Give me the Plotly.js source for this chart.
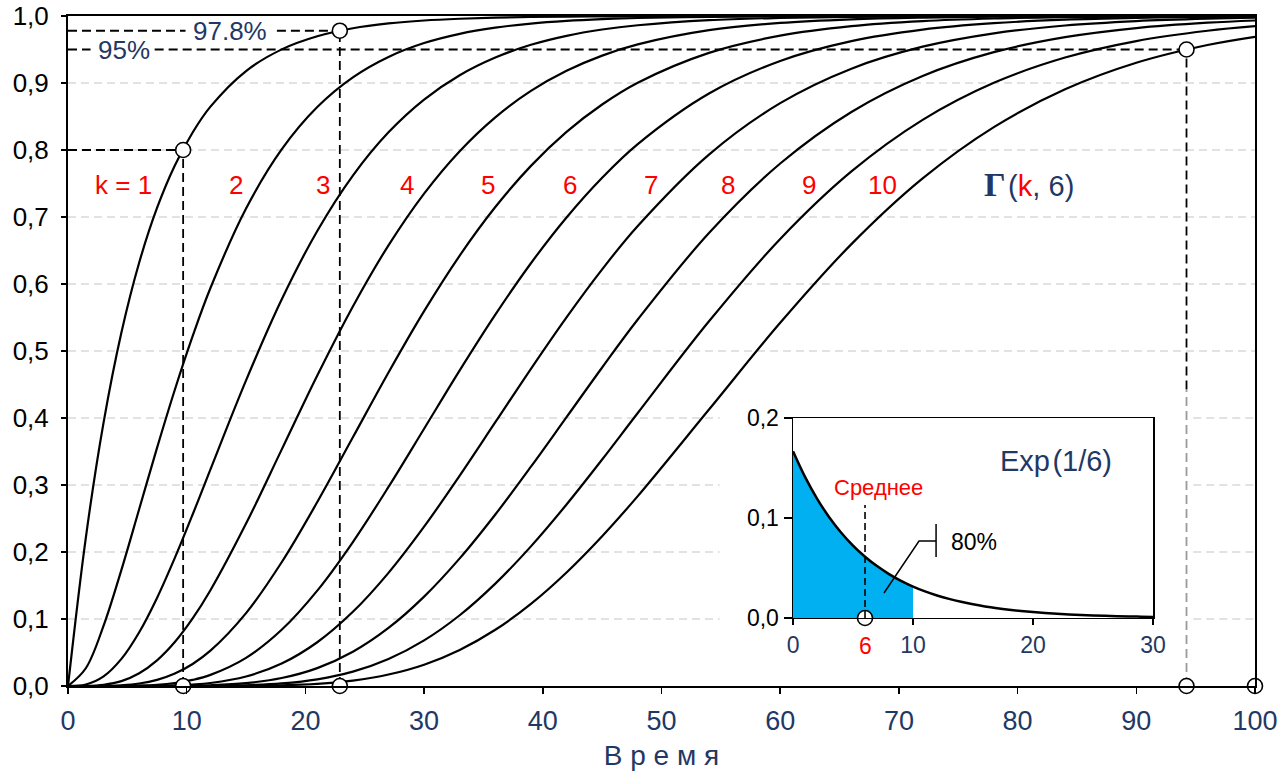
<!DOCTYPE html>
<html><head><meta charset="utf-8">
<script src="https://cdn.plot.ly/plotly-3.0.1.min.js"></script>
<style>html,body{margin:0;padding:0;background:#fff}</style>
</head><body>
<div id="chart" style="width:1285px;height:771px"></div>
<script>
// Time grid (x values, "Время")
const time = [0, 1.5, 3, 4.5, 6, 7.5, 9, 10.5, 12, 15, 18, 21, 24, 27, 30, 33, 36, 39, 42, 45, 48, 54, 60, 66, 72, 78, 84, 90, 96, 100];
// Γ(k, 6) cumulative curves
const gammaK1 = [0, 0.2212, 0.3935, 0.5276, 0.6321, 0.7135, 0.7769, 0.8262, 0.8647, 0.9179, 0.9502, 0.9698, 0.9817, 0.9889, 0.9933, 0.9959, 0.9975, 0.9985, 0.9991, 0.9994, 0.9997, 0.9999, 1, 1, 1, 1, 1, 1, 1, 1];
const gammaK2 = [0, 0.0265, 0.0902, 0.1734, 0.2642, 0.3554, 0.4422, 0.5221, 0.5940, 0.7127, 0.8009, 0.8641, 0.9084, 0.9389, 0.9596, 0.9734, 0.9826, 0.9887, 0.9927, 0.9953, 0.9970, 0.9988, 0.9995, 0.9998, 0.9999, 1, 1, 1, 1, 1];
const gammaK3 = [0, 0.0022, 0.0144, 0.0405, 0.0803, 0.1315, 0.1912, 0.2560, 0.3233, 0.4562, 0.5768, 0.6792, 0.7619, 0.8264, 0.8753, 0.9116, 0.9380, 0.9570, 0.9704, 0.9798, 0.9862, 0.9938, 0.9972, 0.9988, 0.9995, 0.9998, 0.9999, 1, 1, 1];
const gammaK4 = [0, 0.0001, 0.0018, 0.0073, 0.0190, 0.0383, 0.0656, 0.1008, 0.1429, 0.2424, 0.3528, 0.4634, 0.5665, 0.6577, 0.7350, 0.7983, 0.8488, 0.8882, 0.9182, 0.9409, 0.9576, 0.9788, 0.9897, 0.9951, 0.9977, 0.9990, 0.9995, 0.9998, 0.9999, 0.9999];
const gammaK5 = [0, 0, 0.0002, 0.0011, 0.0037, 0.0091, 0.0186, 0.0329, 0.0527, 0.1088, 0.1847, 0.2746, 0.3712, 0.4679, 0.5595, 0.6425, 0.7149, 0.7763, 0.8270, 0.8679, 0.9004, 0.9450, 0.9707, 0.9849, 0.9924, 0.9963, 0.9982, 0.9991, 0.9996, 0.9998];
const gammaK6 = [0, 0, 0, 0.0001, 0.0006, 0.0018, 0.0045, 0.0091, 0.0166, 0.0420, 0.0839, 0.1424, 0.2149, 0.2971, 0.3840, 0.4711, 0.5543, 0.6310, 0.6993, 0.7586, 0.8088, 0.8843, 0.9329, 0.9625, 0.9797, 0.9893, 0.9945, 0.9972, 0.9986, 0.9991];
const gammaK7 = [0, 0, 0, 0, 0.0001, 0.0003, 0.0009, 0.0022, 0.0045, 0.0142, 0.0335, 0.0653, 0.1107, 0.1689, 0.2378, 0.3140, 0.3937, 0.4735, 0.5503, 0.6219, 0.6866, 0.7932, 0.8699, 0.9214, 0.9542, 0.9741, 0.9858, 0.9924, 0.9960, 0.9974];
const gammaK8 = [0, 0, 0, 0, 0, 0, 0.0002, 0.0005, 0.0011, 0.0043, 0.0119, 0.0267, 0.0511, 0.0866, 0.1334, 0.1905, 0.2560, 0.3273, 0.4013, 0.4754, 0.5470, 0.6761, 0.7798, 0.8568, 0.9105, 0.9460, 0.9684, 0.9820, 0.9900, 0.9933];
const gammaK9 = [0, 0, 0, 0, 0, 0, 0, 0.0001, 0.0002, 0.0011, 0.0038, 0.0099, 0.0214, 0.0403, 0.0681, 0.1056, 0.1528, 0.2084, 0.2709, 0.3380, 0.4074, 0.5443, 0.6672, 0.7680, 0.8450, 0.9003, 0.9380, 0.9626, 0.9780, 0.9848];
const gammaK10 = [0, 0, 0, 0, 0, 0, 0, 0, 0, 0.0003, 0.0011, 0.0033, 0.0081, 0.0171, 0.0318, 0.0538, 0.0839, 0.1226, 0.1695, 0.2236, 0.2834, 0.4126, 0.5421, 0.6595, 0.7576, 0.8342, 0.8906, 0.9302, 0.9567, 0.9690];
const gammaSeries = [gammaK1, gammaK2, gammaK3, gammaK4, gammaK5, gammaK6, gammaK7, gammaK8, gammaK9, gammaK10];

// Curve labels
const kLabels = ['k = 1', '2', '3', '4', '5', '6', '7', '8', '9', '10'];
const kLabelX = [4.7, 14.15, 21.5, 28.55, 35.4, 42.3, 49.1, 55.6, 62.4, 68.65];
const kLabelY = 0.748;

// Highlighted points (quantiles)
const markX = [9.7, 22.9, 94.23];
const markY = [0.8, 0.978, 0.95];
const markText = ['', '97.8%', '95%'];
const markTextX = [0, 13.65, 4.72];
const textGapX0 = [null, 9.9, 1.9];
const textGapX1 = [null, 17.6, 7.3];
const endX = 100;

// Tick / gridline values
const yTicks = [0, 0.1, 0.2, 0.3, 0.4, 0.5, 0.6, 0.7, 0.8, 0.9, 1.0];
const xTicks = [0, 10, 20, 30, 40, 50, 60, 70, 80, 90, 100];

// Inset: Exp(1/6) density
const expX = [0,1,2,3,4,5,6,7,8,9,10,11,12,13,14,15,16,17,18,19,20,21,22,23,24,25,26,27,28,29,30];
const expY = [0.16667, 0.14108, 0.11942, 0.10109, 0.08557, 0.07243, 0.06131, 0.05190, 0.04393, 0.03719, 0.03148, 0.02665, 0.02256, 0.01909, 0.01616, 0.01368, 0.01158, 0.00980, 0.00830, 0.00702, 0.00595, 0.00503, 0.00426, 0.00361, 0.00305, 0.00258, 0.00219, 0.00185, 0.00157, 0.00133, 0.00112];
const fillCount = 11; // x = 0 .. 10 shaded (80%)
const meanX = 6;
const meanTop = 0.113;
const insetXTicks = [0, 10, 20, 30];
const insetYTicks = [0, 0.1, 0.2];

const FONT = 'Liberation Sans, Arial, sans-serif';
const BLUE = '#1f3864';
const RED = '#ff0000';
const DASH = '9px,5px';

const traces = [];
gammaSeries.forEach((ys) => {
  traces.push({
    x: time, y: ys, type: 'scatter', mode: 'lines',
    line: {color: '#000', width: 2.2, shape: 'spline', smoothing: 1},
    hoverinfo: 'skip', showlegend: false
  });
});
traces.push({
  x: markX.concat(markX, [endX]), y: markY.concat([0, 0, 0, 0]),
  type: 'scatter', mode: 'markers', cliponaxis: false,
  marker: {size: 15, color: '#fff', line: {color: '#000', width: 1.6}},
  hoverinfo: 'skip', showlegend: false
});
// inset
traces.push({
  x: expX.slice(0, fillCount), y: expY.slice(0, fillCount), xaxis: 'x2', yaxis: 'y2',
  type: 'scatter', mode: 'lines', fill: 'tozeroy', fillcolor: '#00b0f0',
  line: {width: 0, color: '#00b0f0', shape: 'spline'}, hoverinfo: 'skip', showlegend: false
});
traces.push({
  x: expX, y: expY, xaxis: 'x2', yaxis: 'y2', type: 'scatter', mode: 'lines',
  line: {color: '#000', width: 2.5, shape: 'spline'}, hoverinfo: 'skip', showlegend: false
});
traces.push({
  x: [meanX], y: [0], xaxis: 'x2', yaxis: 'y2', type: 'scatter', mode: 'markers', cliponaxis: false,
  marker: {size: 15, color: '#fff', line: {color: '#000', width: 1.6}},
  hoverinfo: 'skip', showlegend: false
});

const shapes = [];
const dashLine = (x0, x1, y0, y1, color) => shapes.push({type: 'line', xref: 'x', yref: 'y', x0, x1, y0, y1,
  layer: 'below', line: {color: color || '#000', width: 1.8, dash: DASH}});
// gridlines (interrupted behind the inset panel)
const gapX0 = 54.9, gapX1 = 94.8, gapTop = 0.4425;
yTicks.slice(1, -1).forEach(v => {
  const segs = v <= gapTop ? [[0, gapX0], [gapX1, 100]] : [[0, 100]];
  segs.forEach(s => shapes.push({type: 'line', xref: 'x', yref: 'y', x0: s[0], x1: s[1], y0: v, y1: v,
    layer: 'below', line: {color: '#d9d9d9', width: 1.3, dash: '8px,5px'}}));
});
// drop lines
markX.forEach((mx, i) => {
  if (textGapX0[i] !== null) {
    dashLine(0, textGapX0[i], markY[i], markY[i]);
    dashLine(textGapX1[i], mx, markY[i], markY[i]);
  } else {
    dashLine(0, mx, markY[i], markY[i]);
  }
  if (mx > gapX0) {
    dashLine(mx, mx, gapTop, markY[i]);
    dashLine(mx, mx, 0, gapTop, '#9a9a9a');
  } else {
    dashLine(mx, mx, 0, markY[i]);
  }
});
// inset: mean line and 80% callout
shapes.push({type: 'line', xref: 'x2', yref: 'y2', x0: meanX, x1: meanX, y0: 0, y1: meanTop,
  layer: 'above', line: {color: '#000', width: 1.6, dash: '7px,4px'}});
shapes.push({type: 'path', xref: 'x2', yref: 'y2', path: 'M7.58,0.025 L10.5,0.077 L11.92,0.077',
  layer: 'above', line: {color: '#000', width: 1.5}});
shapes.push({type: 'line', xref: 'x2', yref: 'y2', x0: 11.92, x1: 11.92, y0: 0.061, y1: 0.094,
  layer: 'above', line: {color: '#000', width: 1.5}});

const annotations = [];
kLabels.forEach((t, i) => annotations.push({x: kLabelX[i], y: kLabelY, xref: 'x', yref: 'y', text: t,
  showarrow: false, font: {family: FONT, size: 26, color: RED}}));
markText.forEach((t, i) => { if (t) annotations.push({x: markTextX[i], y: markY[i], xref: 'x', yref: 'y', text: t,
  showarrow: false, font: {family: FONT, size: 26, color: BLUE}}); });
annotations.push({x: 81.0, y: kLabelY, xref: 'x', yref: 'y', showarrow: false,
  text: '<b><span style="font-family:Liberation Serif,serif;font-size:34px">Γ</span></b>\u200a(<span style="color:#ff0000">k</span>,\u2009\u200a6)',
  font: {family: FONT, size: 29, color: BLUE}});
annotations.push({x: 21.9, y: 0.157, xref: 'x2', yref: 'y2', text: 'Exp\u200a(1/6)', showarrow: false,
  font: {family: FONT, size: 29, color: BLUE}});
annotations.push({x: 7.1, y: 0.131, xref: 'x2', yref: 'y2', text: 'Среднее', showarrow: false,
  font: {family: FONT, size: 22, color: RED}});
annotations.push({x: 13.0, y: 0.076, xref: 'x2', yref: 'y2', xanchor: 'left', text: '80%', showarrow: false,
  font: {family: FONT, size: 23, color: '#000'}});
annotations.push({x: meanX, y: 0, xref: 'x2', yref: 'y2', yshift: -28, text: '6', showarrow: false,
  font: {family: FONT, size: 23, color: RED}});

const layout = {
  width: 1285, height: 771,
  margin: {l: 68, r: 30, t: 16, b: 85},
  paper_bgcolor: '#fff', plot_bgcolor: 'rgba(0,0,0,0)',
  separators: ', ',
  font: {family: FONT},
  showlegend: false,
  xaxis: {
    domain: [0, 1], range: [0, 100], tickvals: xTicks, ticks: 'outside', ticklen: 6, tickwidth: 1.5, tickcolor: '#000',
    showgrid: false, zeroline: false, showline: true, linecolor: '#000', linewidth: 2, mirror: true,
    tickfont: {family: FONT, size: 27, color: BLUE}, ticklabelstandoff: 4,
    title: {text: 'В р е м я', font: {family: FONT, size: 28, color: BLUE}, standoff: 10}
  },
  yaxis: {
    domain: [0, 1], range: [0, 1], tickvals: yTicks, tickformat: '.1f', ticks: 'outside', ticklen: 5, tickwidth: 1.5, tickcolor: '#000',
    showgrid: false, zeroline: false, showline: true, linecolor: '#000', linewidth: 2, mirror: true,
    tickfont: {family: FONT, size: 26, color: '#000'}, ticklabelstandoff: 7
  },
  xaxis2: {
    domain: [0.6108, 0.9141], range: [0, 30], anchor: 'y2', tickvals: insetXTicks, ticks: 'outside', ticklen: 6,
    tickcolor: '#000', tickwidth: 1.5, showgrid: false, zeroline: false, showline: true, linecolor: '#000', linewidth: 1.5, mirror: true,
    tickfont: {family: FONT, size: 23, color: BLUE}
  },
  yaxis2: {
    domain: [0.1015, 0.4], range: [0, 0.2], anchor: 'x2', tickvals: insetYTicks, tickformat: '.1f', ticks: 'outside', ticklen: 8,
    tickcolor: '#000', tickwidth: 1.5, showgrid: false, zeroline: false, showline: true, linecolor: '#000', linewidth: 1.5, mirror: true,
    tickfont: {family: FONT, size: 23, color: '#000'}
  },
  shapes: shapes,
  annotations: annotations
};

Plotly.newPlot('chart', traces, layout, {displayModeBar: false, staticPlot: true});
</script>
</body></html>
